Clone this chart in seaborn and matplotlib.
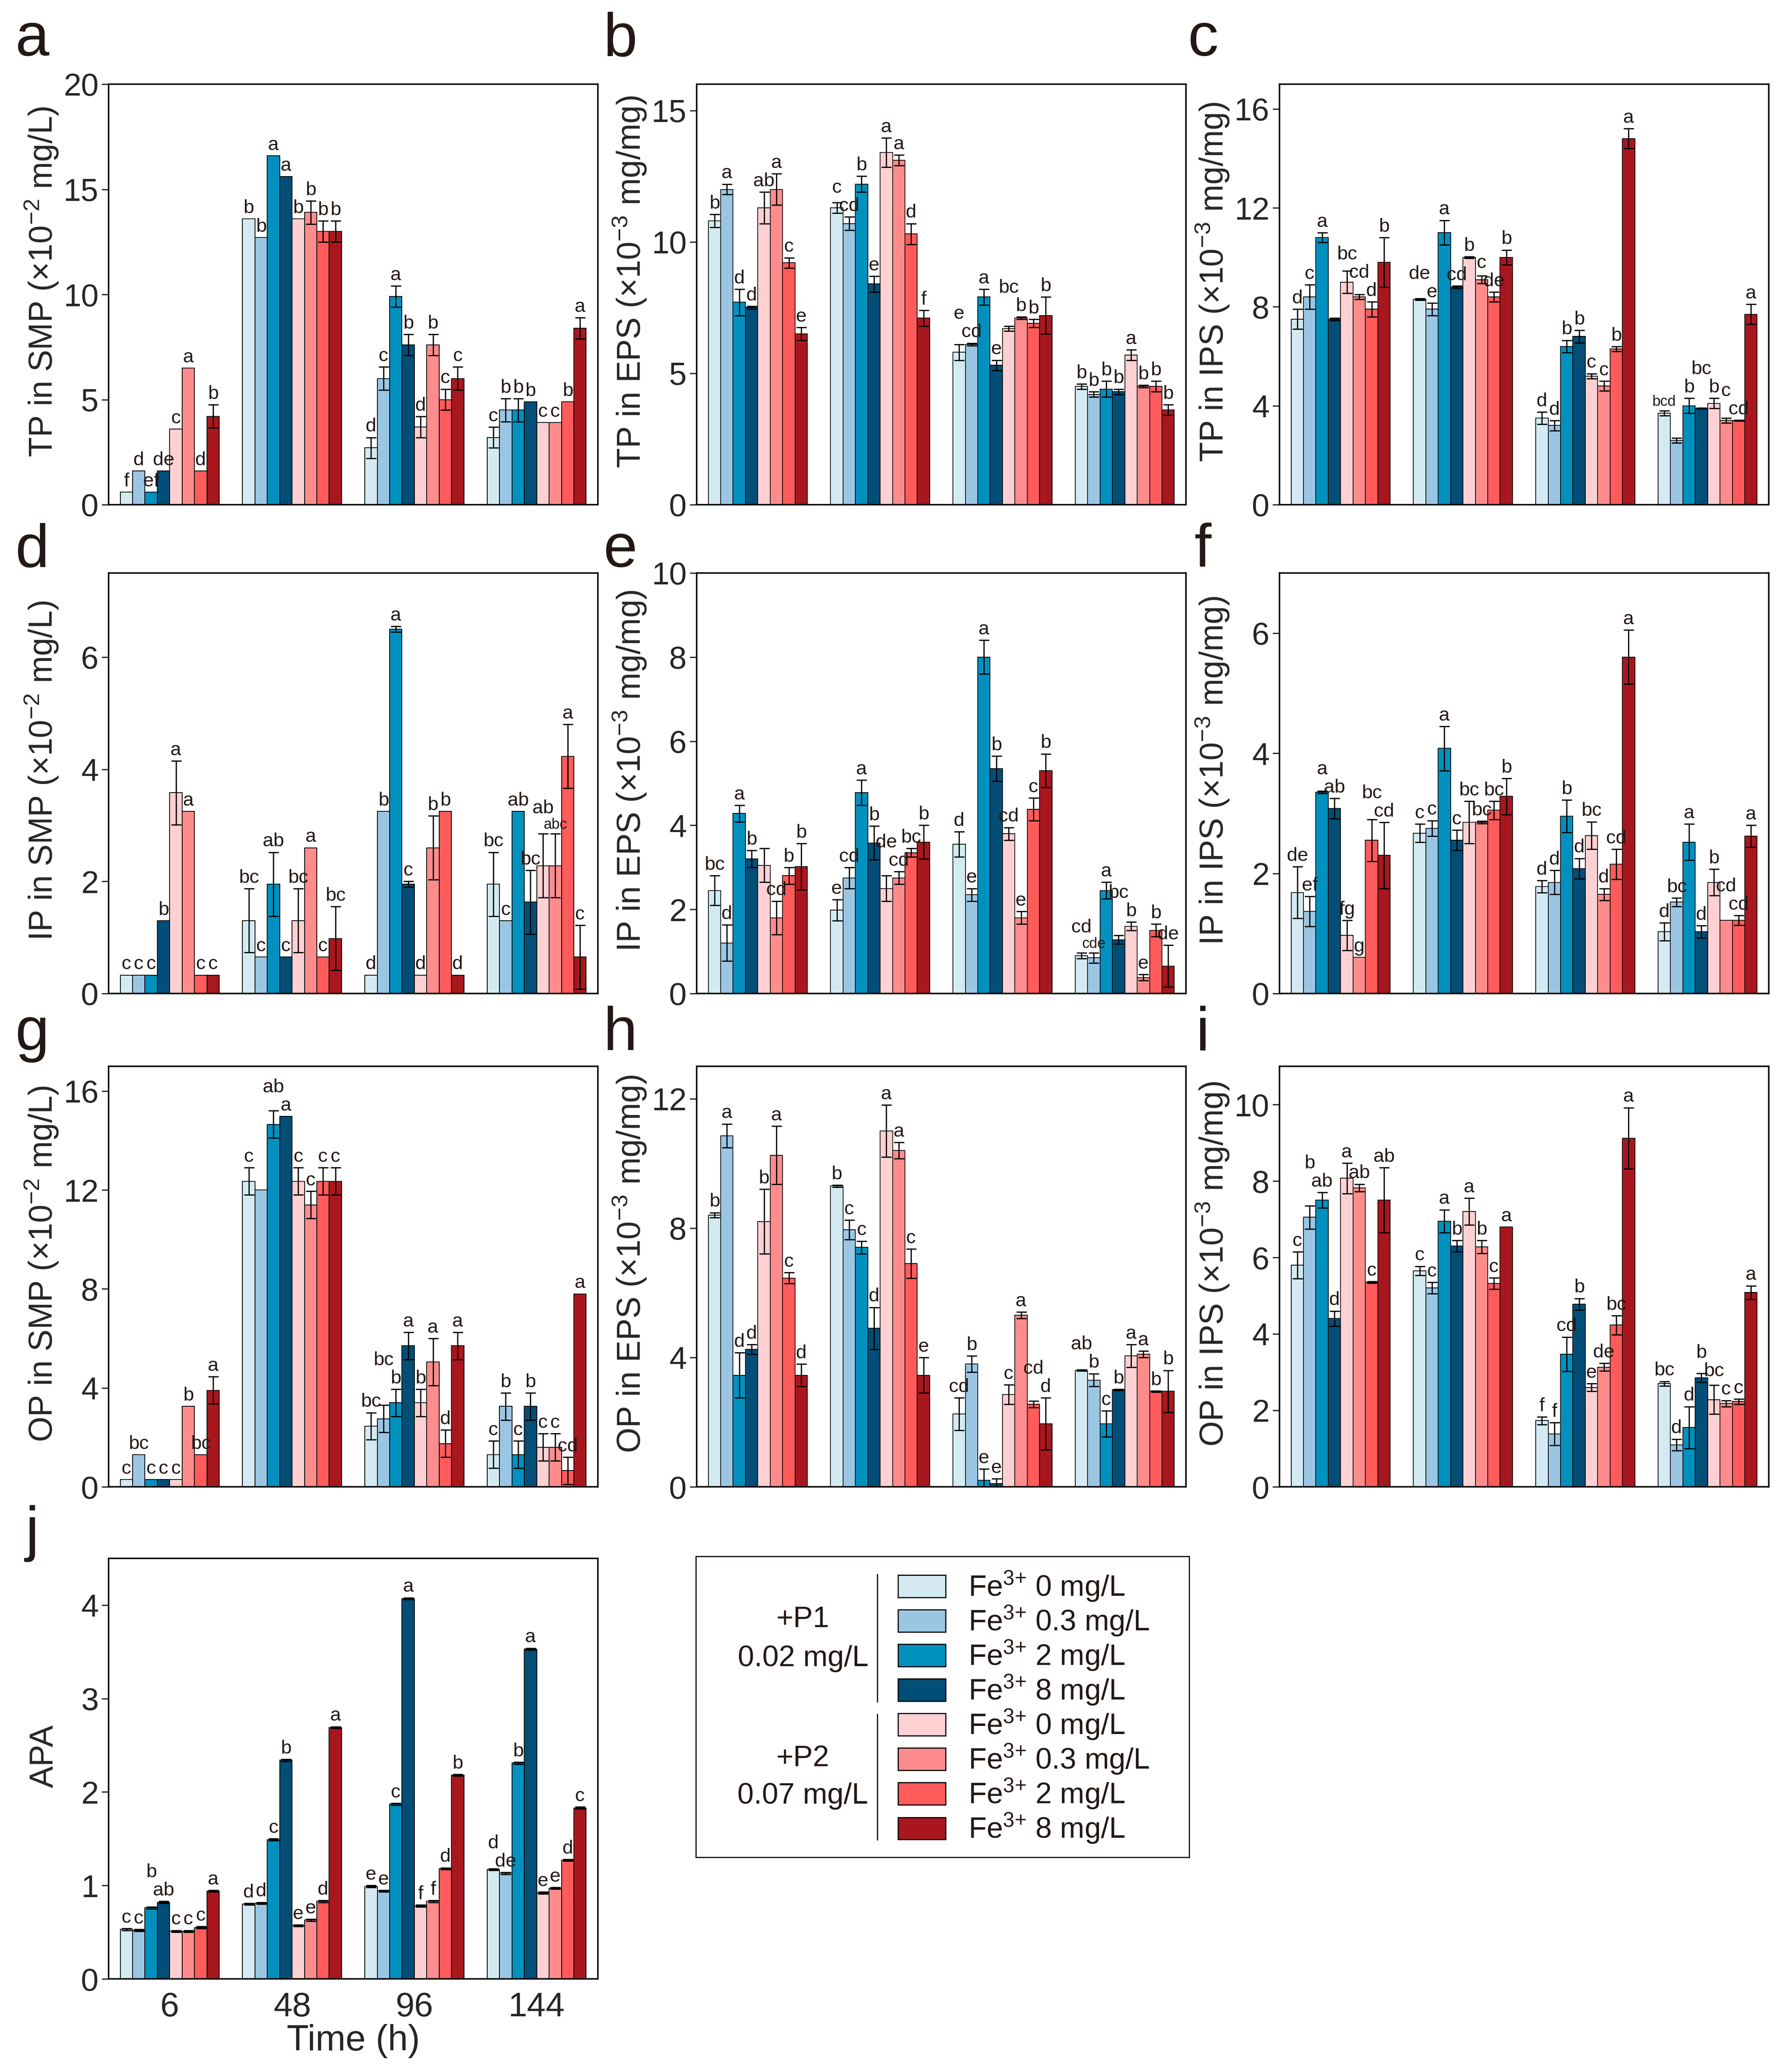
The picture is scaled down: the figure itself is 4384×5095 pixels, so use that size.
import matplotlib
matplotlib.use("Agg")
import matplotlib.pyplot as plt
from matplotlib import font_manager
from matplotlib.patches import Rectangle
from matplotlib.lines import Line2D
import numpy as np
import pandas as pd
import seaborn as sns

# Categories
times = ["6", "48", "96", "144"]
treatments = ["P1 Fe0", "P1 Fe0.3", "P1 Fe2", "P1 Fe8",
              "P2 Fe0", "P2 Fe0.3", "P2 Fe2", "P2 Fe8"]
fe_doses = ["0", "0.3", "2", "8", "0", "0.3", "2", "8"]
bar_colors = ["#d3eaf2", "#9bc6e3", "#0290be", "#024e77",
              "#ffd0d2", "#ff8c8c", "#ff5b5b", "#a8171e"]

# a: TP in SMP
tp_smp_mean = [[0.6, 1.6, 0.6, 1.6, 3.6, 6.5, 1.6, 4.2],
               [13.6, 12.7, 16.6, 15.6, 13.6, 13.9, 13.0, 13.0],
               [2.7, 6.0, 9.9, 7.6, 3.7, 7.6, 5.0, 6.0],
               [3.2, 4.5, 4.5, 4.9, 3.9, 3.9, 4.9, 8.4]]
tp_smp_err = [[0, 0, 0, 0, 0, 0, 0, 0.55],
              [0, 0, 0, 0, 0, 0.55, 0.5, 0.5],
              [0.5, 0.55, 0.5, 0.5, 0.5, 0.5, 0.5, 0.55],
              [0.5, 0.55, 0.55, 0, 0, 0, 0, 0.5]]
tp_smp_sig = [["f", "d", "ef", "de", "c", "a", "d", "b"],
              ["b", "b", "a", "a", "b", "b", "b", "b"],
              ["d", "c", "a", "b", "d", "b", "c", "c"],
              ["c", "b", "b", "b", "c", "c", "b", "a"]]

# b: TP in EPS
tp_eps_mean = [[10.8, 12.0, 7.7, 7.5, 11.3, 12.0, 9.2, 6.5],
               [11.3, 10.7, 12.2, 8.4, 13.4, 13.1, 10.3, 7.1],
               [5.8, 6.1, 7.9, 5.3, 6.7, 7.1, 6.9, 7.2],
               [4.5, 4.2, 4.4, 4.3, 5.7, 4.5, 4.5, 3.6]]
tp_eps_err = [[0.25, 0.2, 0.5, 0.05, 0.6, 0.6, 0.2, 0.25],
              [0.2, 0.25, 0.3, 0.3, 0.55, 0.2, 0.4, 0.3],
              [0.3, 0.05, 0.3, 0.2, 0.1, 0.05, 0.15, 0.7],
              [0.1, 0.1, 0.3, 0.1, 0.2, 0.05, 0.2, 0.2]]
tp_eps_sig = [["b", "a", "d", "d", "ab", "a", "c", "e"],
              ["c", "cd", "b", "e", "a", "a", "d", "f"],
              ["e", "cd", "a", "e", "bc", "b", "b", "b"],
              ["b", "b", "b", "b", "a", "b", "b", "b"]]

# c: TP in IPS
tp_ips_mean = [[7.5, 8.4, 10.8, 7.5, 9.0, 8.4, 7.9, 9.8],
               [8.3, 7.9, 11.0, 8.8, 10.0, 9.1, 8.4, 10.0],
               [3.5, 3.2, 6.4, 6.8, 5.2, 4.8, 6.3, 14.8],
               [3.7, 2.6, 4.0, 3.9, 4.1, 3.4, 3.4, 7.7]]
tp_ips_err = [[0.4, 0.5, 0.2, 0.05, 0.45, 0.1, 0.3, 1.0],
              [0.03, 0.25, 0.5, 0.05, 0.03, 0.15, 0.2, 0.3],
              [0.25, 0.2, 0.25, 0.25, 0.1, 0.2, 0.1, 0.4],
              [0.1, 0.1, 0.3, 0.02, 0.2, 0.1, 0.02, 0.4]]
tp_ips_sig = [["d", "c", "a", "", "bc", "cd", "d", "b"],
              ["de", "e", "a", "cd", "b", "c", "de", "b"],
              ["d", "d", "b", "b", "c", "c", "b", "a"],
              ["bcd", "", "b", "bc", "b", "c", "cd", "a"]]

# d: IP in SMP
ip_smp_mean = [[0.33, 0.33, 0.33, 1.3, 3.58, 3.25, 0.33, 0.33],
               [1.3, 0.65, 1.95, 0.65, 1.3, 2.6, 0.65, 0.98],
               [0.33, 3.25, 6.5, 1.95, 0.33, 2.6, 3.25, 0.33],
               [1.95, 1.3, 3.25, 1.63, 2.28, 2.28, 4.23, 0.65]]
ip_smp_err = [[0, 0, 0, 0, 0.57, 0, 0, 0],
              [0.57, 0, 0.57, 0, 0.57, 0, 0, 0.57],
              [0, 0, 0.05, 0.05, 0, 0.57, 0, 0],
              [0.57, 0, 0, 0.57, 0.57, 0.57, 0.57, 0.57]]
ip_smp_sig = [["c", "c", "c", "b", "a", "a", "c", "c"],
              ["bc", "c", "ab", "c", "bc", "a", "c", "bc"],
              ["d", "b", "a", "c", "d", "b", "b", "d"],
              ["bc", "c", "ab", "bc", "ab", "abc", "a", "c"]]

# e: IP in EPS
ip_eps_mean = [[2.45, 1.2, 4.28, 3.2, 3.05, 1.8, 2.8, 3.02],
               [1.98, 2.75, 4.78, 3.58, 2.5, 2.75, 3.35, 3.6],
               [3.55, 2.35, 8.0, 5.35, 3.8, 1.8, 4.38, 5.3],
               [0.9, 0.85, 2.45, 1.28, 1.6, 0.38, 1.5, 0.65]]
ip_eps_err = [[0.35, 0.43, 0.2, 0.2, 0.4, 0.4, 0.2, 0.55],
              [0.25, 0.25, 0.3, 0.4, 0.3, 0.15, 0.1, 0.4],
              [0.3, 0.15, 0.4, 0.3, 0.15, 0.15, 0.27, 0.4],
              [0.07, 0.12, 0.2, 0.1, 0.1, 0.07, 0.15, 0.5]]
ip_eps_sig = [["bc", "d", "a", "b", "", "cd", "b", "b"],
              ["e", "cd", "a", "b", "de", "cd", "bc", "b"],
              ["d", "e", "a", "b", "cd", "e", "c", "b"],
              ["cd", "cde", "a", "bc", "b", "e", "b", "de"]]

# f: IP in IPS
ip_ips_mean = [[1.68, 1.37, 3.35, 3.08, 0.97, 0.6, 2.55, 2.3],
               [2.67, 2.75, 4.08, 2.55, 2.85, 2.85, 3.05, 3.28],
               [1.78, 1.85, 2.95, 2.08, 2.63, 1.65, 2.15, 5.6],
               [1.03, 1.52, 2.52, 1.03, 1.85, 1.22, 1.22, 2.62]]
ip_ips_err = [[0.43, 0.25, 0.02, 0.17, 0.25, 0, 0.35, 0.55],
              [0.15, 0.13, 0.37, 0.17, 0.35, 0.02, 0.15, 0.3],
              [0.1, 0.2, 0.27, 0.17, 0.23, 0.1, 0.25, 0.45],
              [0.15, 0.07, 0.3, 0.1, 0.22, 0, 0.08, 0.18]]
ip_ips_sig = [["de", "ef", "a", "ab", "fg", "g", "bc", "cd"],
              ["c", "c", "a", "c", "bc", "bc", "bc", "b"],
              ["d", "d", "b", "d", "bc", "d", "cd", "a"],
              ["d", "bc", "a", "d", "b", "cd", "cd", "a"]]

# g: OP in SMP
op_smp_mean = [[0.3, 1.3, 0.3, 0.3, 0.3, 3.25, 1.3, 3.9],
               [12.35, 12.0, 14.65, 14.98, 12.35, 11.4, 12.35, 12.35],
               [2.45, 2.75, 3.4, 5.7, 3.4, 5.05, 1.75, 5.7],
               [1.3, 3.25, 1.3, 3.25, 1.6, 1.6, 0.65, 7.8]]
op_smp_err = [[0, 0, 0, 0, 0, 0, 0, 0.55],
              [0.55, 0, 0.55, 0, 0.55, 0.55, 0.55, 0.55],
              [0.55, 0.55, 0.55, 0.55, 0.55, 0.95, 0.55, 0.55],
              [0.55, 0.55, 0.55, 0.55, 0.55, 0.55, 0.55, 0]]
op_smp_sig = [["c", "bc", "c", "c", "c", "b", "bc", "a"],
              ["c", "", "ab", "a", "c", "c", "c", "c"],
              ["bc", "bc", "b", "a", "b", "a", "d", "a"],
              ["c", "b", "c", "b", "c", "c", "cd", "a"]]

# h: OP in EPS
op_eps_mean = [[8.4, 10.85, 3.45, 4.25, 8.2, 10.25, 6.45, 3.45],
               [9.3, 7.95, 7.4, 4.9, 11.0, 10.4, 6.9, 3.45],
               [2.25, 3.8, 0.2, 0.1, 2.85, 5.3, 2.55, 1.95],
               [3.6, 3.3, 1.95, 3.0, 4.05, 4.1, 2.95, 2.95]]
op_eps_err = [[0.08, 0.37, 0.7, 0.15, 1.0, 0.9, 0.17, 0.35],
              [0.03, 0.3, 0.2, 0.65, 0.8, 0.25, 0.45, 0.55],
              [0.5, 0.25, 0.35, 0.15, 0.3, 0.1, 0.1, 0.8],
              [0.02, 0.2, 0.4, 0.02, 0.35, 0.1, 0.02, 0.65]]
op_eps_sig = [["b", "a", "d", "d", "b", "a", "c", "d"],
              ["b", "c", "c", "d", "a", "a", "c", "e"],
              ["cd", "b", "e", "e", "c", "a", "cd", "d"],
              ["ab", "b", "c", "b", "a", "a", "b", "b"]]

# i: OP in IPS
op_ips_mean = [[5.8, 7.05, 7.5, 4.4, 8.07, 7.82, 5.35, 7.5],
               [5.65, 5.2, 6.95, 6.3, 7.2, 6.28, 5.32, 6.8],
               [1.73, 1.38, 3.47, 4.78, 2.6, 3.13, 4.23, 9.12],
               [2.7, 1.1, 1.55, 2.85, 2.28, 2.18, 2.23, 5.08]]
op_ips_err = [[0.35, 0.3, 0.2, 0.2, 0.4, 0.1, 0.02, 0.85],
              [0.12, 0.15, 0.3, 0.15, 0.35, 0.17, 0.15, 0],
              [0.1, 0.3, 0.45, 0.15, 0.1, 0.1, 0.25, 0.8],
              [0.06, 0.15, 0.55, 0.12, 0.38, 0.08, 0.07, 0.18]]
op_ips_sig = [["c", "b", "ab", "d", "a", "ab", "c", "ab"],
              ["c", "c", "a", "b", "a", "b", "c", "a"],
              ["f", "f", "cd", "b", "e", "de", "bc", "a"],
              ["bc", "d", "d", "b", "bc", "c", "c", "a"]]

# j: APA
apa_mean = [[0.53, 0.52, 0.76, 0.82, 0.51, 0.51, 0.55, 0.94],
            [0.80, 0.81, 1.49, 2.34, 0.57, 0.63, 0.83, 2.69],
            [0.99, 0.94, 1.87, 4.07, 0.78, 0.83, 1.18, 2.18],
            [1.17, 1.13, 2.31, 3.53, 0.92, 0.97, 1.27, 1.83]]
apa_err = [[0.01, 0.01, 0.01, 0.01, 0.01, 0.01, 0.01, 0.01],
           [0.01, 0.01, 0.01, 0.01, 0.01, 0.01, 0.01, 0.01],
           [0.01, 0.01, 0.01, 0.01, 0.01, 0.01, 0.01, 0.01],
           [0.01, 0.01, 0.01, 0.01, 0.01, 0.01, 0.01, 0.01]]
apa_sig = [["c", "c", "b", "ab", "c", "c", "c", "a"],
           ["d", "d", "c", "b", "e", "e", "d", "a"],
           ["e", "e", "c", "a", "f", "f", "d", "b"],
           ["d", "de", "b", "a", "e", "e", "d", "c"]]


def pick_font(names):
    for n in names:
        try:
            font_manager.findfont(font_manager.FontProperties(family=n),
                                  fallback_to_default=False)
            return n
        except ValueError:
            pass
    return "DejaVu Sans"


narrow = pick_font(["Liberation Sans Narrow", "Liberation Sans"])
regular = pick_font(["Liberation Sans", "Arial"])

sns.set_style("ticks")
plt.rcParams["font.family"] = [narrow, "DejaVu Sans"]
plt.rcParams["mathtext.fontset"] = "custom"
plt.rcParams["mathtext.rm"] = narrow
plt.rcParams["mathtext.it"] = narrow + ":italic"
plt.rcParams["mathtext.bf"] = narrow + ":bold"
plt.rcParams["axes.linewidth"] = 2.6
plt.rcParams["text.color"] = "#231815"

W, H = 4384, 5095
fig = plt.figure(figsize=(W / 100, H / 100), dpi=100)
fig.patch.set_facecolor("white")

col_left = [267, 1713, 3146]
row_top = [207, 1409, 2622, 3832]
ax_w, ax_h = 1203, 1034
letter_off = [70, 15, 40, 22]
sig_labels = []


def make_axes(col, row):
    l = col_left[col]
    t = row_top[row]
    return fig.add_axes([l / W, 1 - (t + ax_h) / H, ax_w / W, ax_h / H])


def draw_panel(ax, means, errs, sig, ylabel, ylim, yticks, xlab=False):
    df = pd.DataFrame({
        "time": np.repeat(times, len(treatments)),
        "trt": treatments * len(times),
        "value": np.ravel(means),
    })
    sns.barplot(data=df, x="time", y="value", hue="trt", order=times,
                hue_order=treatments, palette=bar_colors, saturation=1,
                width=0.81, gap=0, errorbar=None, edgecolor="black",
                linewidth=1.4, legend=False, ax=ax)
    bars = sorted(ax.patches, key=lambda p: p.get_x())
    groups = [[] for _ in times]
    for k, p in enumerate(bars):
        i, j = divmod(k, len(treatments))
        xc = p.get_x() + p.get_width() / 2
        top = p.get_height()
        e = errs[i][j]
        if e > 0:
            ax.errorbar(xc, top, yerr=e, fmt="none", ecolor="black",
                        elinewidth=2.2, capsize=9, capthick=2.2, zorder=5)
        if sig[i][j]:
            fs = 34 if len(sig[i][j]) < 3 else 26
            t = ax.annotate(sig[i][j], (xc, top + e), xytext=(0, 3),
                            textcoords="offset points", ha="center",
                            va="bottom", fontsize=fs)
            groups[i].append(t)
    sig_labels.extend(groups)
    ax.set_xlim(-0.5, 3.5)
    ax.set_ylim(*ylim)
    ax.set_yticks(yticks)
    ax.tick_params(axis="y", direction="out", length=12, width=2.2,
                   labelsize=56, pad=6)
    ax.tick_params(axis="x", length=0)
    for s in ax.spines.values():
        s.set_visible(True)
        s.set_linewidth(2.6)
        s.set_color("black")
    ax.set_ylabel(ylabel, fontsize=58)
    ax.yaxis.set_label_coords(-0.1, 0.53)
    if xlab:
        ax.tick_params(axis="x", labelsize=60, pad=22)
        ax.set_xlabel("Time (h)", fontsize=64, labelpad=2)
    else:
        ax.set_xticklabels([])
        ax.set_xlabel("")


sup2 = r"$\mathregular{^{-2}}$"
sup3 = r"$\mathregular{^{-3}}$"
panels = [
    ("a", 0, 0, tp_smp_mean, tp_smp_err, tp_smp_sig,
     "TP in SMP (×10" + sup2 + " mg/L)", (0, 20), [0, 5, 10, 15, 20]),
    ("b", 1, 0, tp_eps_mean, tp_eps_err, tp_eps_sig,
     "TP in EPS (×10" + sup3 + " mg/mg)", (0, 16), [0, 5, 10, 15]),
    ("c", 2, 0, tp_ips_mean, tp_ips_err, tp_ips_sig,
     "TP in IPS (×10" + sup3 + " mg/mg)", (0, 17), [0, 4, 8, 12, 16]),
    ("d", 0, 1, ip_smp_mean, ip_smp_err, ip_smp_sig,
     "IP in SMP (×10" + sup2 + " mg/L)", (0, 7.5), [0, 2, 4, 6]),
    ("e", 1, 1, ip_eps_mean, ip_eps_err, ip_eps_sig,
     "IP in EPS (×10" + sup3 + " mg/mg)", (0, 10), [0, 2, 4, 6, 8, 10]),
    ("f", 2, 1, ip_ips_mean, ip_ips_err, ip_ips_sig,
     "IP in IPS (×10" + sup3 + " mg/mg)", (0, 7), [0, 2, 4, 6]),
    ("g", 0, 2, op_smp_mean, op_smp_err, op_smp_sig,
     "OP in SMP (×10" + sup2 + " mg/L)", (0, 17), [0, 4, 8, 12, 16]),
    ("h", 1, 2, op_eps_mean, op_eps_err, op_eps_sig,
     "OP in EPS (×10" + sup3 + " mg/mg)", (0, 13), [0, 4, 8, 12]),
    ("i", 2, 2, op_ips_mean, op_ips_err, op_ips_sig,
     "OP in IPS (×10" + sup3 + " mg/mg)", (0, 11), [0, 2, 4, 6, 8, 10]),
    ("j", 0, 3, apa_mean, apa_err, apa_sig,
     "APA", (0, 4.5), [0, 1, 2, 3, 4]),
]

for letter, col, row, m, e, s, yl, lim, ticks in panels:
    ax = make_axes(col, row)
    draw_panel(ax, m, e, s, yl, lim, ticks, xlab=(letter == "j"))
    fig.text((col_left[col] - 188) / W, 1 - (row_top[row] - letter_off[row]) / H,
             letter, fontsize=108, ha="center", va="baseline",
             family=[regular, "DejaVu Sans"])

# lift a letter when it collides with its right-hand neighbour
renderer = fig.canvas.get_renderer()
for group in sig_labels:
    for a in range(len(group) - 2, -1, -1):
        left, right = group[a], group[a + 1]
        bl = left.get_window_extent(renderer)
        br = right.get_window_extent(renderer)
        if bl.x1 > br.x0 + 1 and bl.y0 < br.y1 and br.y0 < bl.y1:
            lift = (br.y1 - bl.y0 + 1) * 72 / fig.dpi
            ox, oy = left.xyann
            left.xyann = (ox, oy + lift)

# Legend box
lax = fig.add_axes([1711 / W, 1 - 4567 / H, 1213 / W, 740 / H])
lax.set_xlim(0, 1)
lax.set_ylim(0, 1)
lax.set_xticks([])
lax.set_yticks([])
for sp in lax.spines.values():
    sp.set_linewidth(2.2)
    sp.set_color("#231815")
for k in range(len(treatments)):
    yc = 0.901 - k * 0.115
    lax.add_patch(Rectangle((0.41, yc - 0.037), 0.096, 0.074,
                            facecolor=bar_colors[k], edgecolor="black", lw=2))
    lax.text(0.552, yc, r"Fe$\mathregular{^{3{+}}}$ " + fe_doses[k] + " mg/L",
             fontsize=52, va="center", ha="left", family=[regular, "DejaVu Sans"])
for label, y in [("+P1", 0.79), ("0.02 mg/L", 0.66),
                 ("+P2", 0.328), ("0.07 mg/L", 0.204)]:
    lax.text(0.217, y, label, fontsize=52, ha="center", va="center",
             family=[regular, "DejaVu Sans"])
lax.add_line(Line2D([0.368, 0.368], [0.516, 0.941], color="#231815", lw=2.2))
lax.add_line(Line2D([0.368, 0.368], [0.058, 0.476], color="#231815", lw=2.2))

fig.savefig("out.png", dpi=100, facecolor="white")
